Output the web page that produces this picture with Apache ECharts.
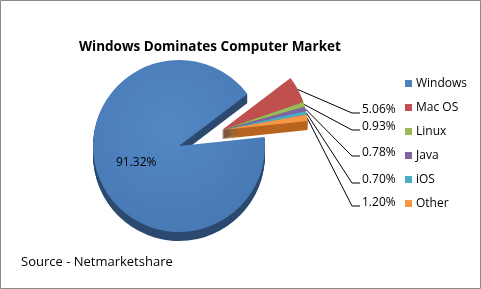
<!DOCTYPE html>
<html><head><meta charset="utf-8">
<script src="https://cdn.jsdelivr.net/npm/echarts@6/dist/echarts.min.js"></script>
<style>html,body{margin:0;padding:0;background:#fff}#c{width:481px;height:289px}</style>
</head><body><div id="c"></div>
<script>
// ---- data ----
const titleText = 'Windows Dominates Computer Market';
const sourceText = 'Source - Netmarketshare';
const categories = ['Windows', 'Mac OS', 'Linux', 'Java', 'iOS', 'Other'];
const shares = [91.32, 5.06, 0.93, 0.78, 0.70, 1.20];
const explodedFlags = [false, true, true, true, true, true];

// ---- styles ----
const topColors = ['#4F81BD', '#C0504D', '#9BBB59', '#8064A2', '#4BACC6', '#F79646'];
const sideColors = ['#2C4A70', '#7E2E2C', '#64803A', '#52406E', '#2E7F94', '#B8641F'];
const FONT = '"Open Sans", "Liberation Sans", sans-serif';
const R = 86, CX = 179, CY = 146, DEPTH = 9;
const EXP_DX = 43, EXP_DY = -16;
const START = 6;
const labelYs = {1: 110, 2: 127, 3: 153, 4: 180, 5: 203};
const LABEL_X = 362;

function makeData(group, colors, withLabel) {
  return categories.map((n, i) => {
    const visible = (group === 'exp') === explodedFlags[i];
    return {
      name: n, value: shares[i],
      itemStyle: { color: visible ? colors[i] : 'rgba(0,0,0,0)' },
      label: { show: withLabel && visible },
      labelLine: { show: withLabel && visible }
    };
  });
}

const series = [];
for (let d = DEPTH; d >= 1; d--) {
  ['main', 'exp'].forEach(g => {
    const cx = g === 'exp' ? CX + EXP_DX : CX;
    const cy = (g === 'exp' ? CY + EXP_DY : CY) + d;
    series.push({
      type: 'pie', silent: true, animation: false, startAngle: START, clockwise: true,
      center: [cx, cy], radius: R, avoidLabelOverlap: false,
      label: { show: false }, labelLine: { show: false },
      itemStyle: { borderWidth: 0 },
      data: makeData(g, sideColors, false)
    });
  });
}
// top faces
series.push({
  type: 'pie', silent: true, animation: false, startAngle: START,
  center: [CX, CY], radius: R, avoidLabelOverlap: false,
  itemStyle: { borderWidth: 0 },
  label: { show: true, position: 'inside', color: '#000', fontFamily: FONT, fontSize: 12,
    formatter: p => p.value.toFixed(2) + '%' },
  data: makeData('main', topColors, true).map((d, i) => {
    if (i === 0) d.itemStyle.color = {
      type: 'radial', x: 0.45, y: 0.4, r: 0.7,
      colorStops: [{offset: 0, color: '#5388c5'}, {offset: 1, color: '#4677b2'}]
    };
    return d;
  })
});
series.push({
  type: 'pie', silent: true, animation: false, startAngle: START,
  center: [CX + EXP_DX, CY + EXP_DY], radius: R, avoidLabelOverlap: false,
  itemStyle: { borderWidth: 0 },
  label: { show: true, position: 'outside', color: '#000', fontFamily: FONT, fontSize: 12,
    formatter: p => p.value.toFixed(2) + '%' },
  labelLine: { show: true, lineStyle: { color: '#000', width: 1 } },
  labelLayout: function (params) {
    const y = labelYs[params.dataIndex];
    if (y === undefined) return {};
    const p0 = params.labelLinePoints ? params.labelLinePoints[0] : [300, 100];
    return {
      x: LABEL_X, y: y, align: 'left', verticalAlign: 'middle',
      labelLinePoints: [p0, [352, y + 3], [360, y + 3]]
    };
  },
  data: makeData('exp', topColors, true)
});

const chart = echarts.init(document.getElementById('c'), null, { renderer: 'canvas' });
chart.setOption({
  animation: false,
  backgroundColor: '#fff',
  title: {
    text: titleText, left: 79, top: 40, padding: 0,
    textStyle: { fontFamily: FONT, fontSize: 13.5, fontWeight: 'bold', color: '#000' }
  },
  legend: {
    orient: 'vertical', left: 405, top: 77, padding: 0,
    itemWidth: 7, itemHeight: 7, itemGap: 11, selectedMode: false,
    textStyle: { fontFamily: FONT, fontSize: 12, color: '#000', lineHeight: 13, padding: [0, 0, 0, -1] },
    data: categories.map((n, i) => ({ name: n, icon: 'rect', itemStyle: { color: topColors[i] } }))
  },
  graphic: [
    { type: 'rect', silent: true, z: 100, shape: { x: 0.5, y: 0.5, width: 480, height: 288 },
      style: { fill: 'none', stroke: '#8a8a8a', lineWidth: 1 } },
    { type: 'text', x: 21, y: 262, silent: true,
      style: { text: sourceText, fontFamily: FONT, fontSize: 13, fill: '#000', verticalAlign: 'middle' } }
  ],
  series: series
});
</script></body></html>
